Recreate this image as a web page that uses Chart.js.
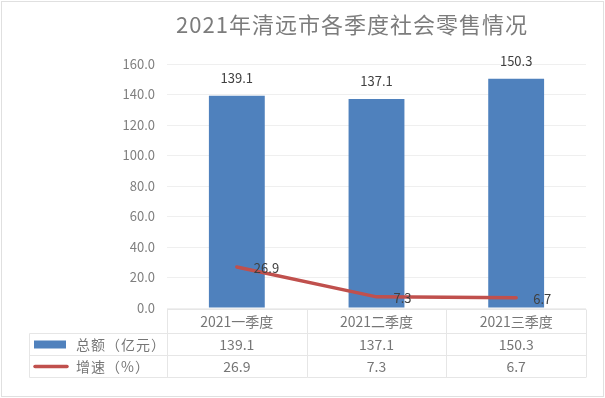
<!DOCTYPE html>
<html><head><meta charset="utf-8">
<script src="https://cdn.jsdelivr.net/npm/chart.js@4.4.1/dist/chart.umd.min.js"></script>
<style>html,body{margin:0;padding:0;background:#fff;}#wrap{width:605px;height:398px;position:relative;}</style>
</head><body><div id="wrap"><canvas id="c" width="605" height="398"></canvas></div>
<script>
const titleText = '2021年清远市各季度社会零售情况';
const categories = ['2021一季度', '2021二季度', '2021三季度'];
const totalValues = [139.1, 137.1, 150.3];
const growthValues = [26.9, 7.3, 6.7];
const seriesNames = ['总额（亿元）', '增速（%）'];
const yTicks = [0, 20, 40, 60, 80, 100, 120, 140, 160];

const FONT = '"Noto Sans CJK SC", "Microsoft YaHei", sans-serif';
const BLUE = '#4f81bd', RED = '#c0504d';
const TEXT_GRAY = '#767676';

const titlePlugin = {
  id: 'customTitle',
  afterDraw(chart) {
    const ctx = chart.ctx;
    ctx.save();
    ctx.font = '22px ' + FONT;
    ctx.fillStyle = '#7c7c7c';
    ctx.textBaseline = 'middle';
    ctx.textAlign = 'left';
    try { ctx.letterSpacing = '1px'; } catch (e) {}
    const w = ctx.measureText(titleText).width;
    ctx.fillText(titleText, 352 - w / 2, 25);
    ctx.restore();
  }
};

const labelPlugin = {
  id: 'labels',
  afterDatasetsDraw(chart) {
    const ctx = chart.ctx;
    ctx.save();
    ctx.font = '13px ' + FONT;
    ctx.fillStyle = '#404040';
    ctx.textBaseline = 'middle';
    const barMeta = chart.getDatasetMeta(0);
    barMeta.data.forEach((el, i) => {
      ctx.textAlign = 'center';
      ctx.fillText(totalValues[i].toFixed(1), el.x, el.y - 18);
    });
    const lineMeta = chart.getDatasetMeta(1);
    lineMeta.data.forEach((el, i) => {
      ctx.textAlign = 'left';
      ctx.fillText(growthValues[i].toFixed(1), el.x + 17, el.y + 1);
    });
    ctx.restore();
  }
};

const tablePlugin = {
  id: 'table',
  afterDraw(chart) {
    const ctx = chart.ctx;
    const xs = chart.scales.x;
    const area = chart.chartArea;
    const n = categories.length;
    const centers = categories.map((c, i) => xs.getPixelForValue(i));
    const half = (centers[1] - centers[0]) / 2;
    const bounds = [area.left].concat(centers.map(c => c + half));
    bounds[bounds.length - 1] = area.right;
    const legendLeft = 29.5;
    const rows = [309.5, 333.5, 355.5, 377.5];
    ctx.save();
    ctx.strokeStyle = '#e6e6e6';
    ctx.lineWidth = 1;
    ctx.beginPath();
    ctx.moveTo(bounds[0], rows[0]); ctx.lineTo(bounds[n], rows[0]);
    for (let r = 1; r < rows.length; r++) {
      ctx.moveTo(legendLeft, rows[r]); ctx.lineTo(bounds[n], rows[r]);
    }
    ctx.moveTo(legendLeft, rows[1]); ctx.lineTo(legendLeft, rows[3]);
    bounds.forEach(b => {
      const x = Math.round(b) + 0.5;
      ctx.moveTo(x, rows[0]); ctx.lineTo(x, rows[3]);
    });
    ctx.stroke();

    ctx.font = '14px ' + FONT;
    ctx.fillStyle = TEXT_GRAY;
    ctx.textAlign = 'center';
    ctx.textBaseline = 'middle';
    const rowMid = [344.5, 366.5];
    centers.forEach((c, i) => {
      ctx.fillText(totalValues[i].toFixed(1), c, rowMid[0]);
      ctx.fillText(growthValues[i].toFixed(1), c, rowMid[1]);
    });
    ctx.fillStyle = BLUE;
    ctx.fillRect(34, rowMid[0] - 4, 32, 8);
    ctx.strokeStyle = RED;
    ctx.lineWidth = 3.5;
    ctx.lineCap = 'round';
    ctx.beginPath();
    ctx.moveTo(35, rowMid[1]); ctx.lineTo(67, rowMid[1]);
    ctx.stroke();
    ctx.fillStyle = TEXT_GRAY;
    ctx.textAlign = 'left';
    ctx.font = '14px ' + FONT;
    try { ctx.letterSpacing = '1px'; } catch (e) {}
    ctx.fillText(seriesNames[0], 76, rowMid[0]);
    ctx.fillText(seriesNames[1], 76, rowMid[1]);
    try { ctx.letterSpacing = '0px'; } catch (e) {}

    ctx.strokeStyle = '#e0e0e0';
    ctx.lineWidth = 1;
    ctx.lineCap = 'butt';
    ctx.strokeRect(1.5, 1.5, 602, 395);
    ctx.restore();
  }
};

new Chart(document.getElementById('c'), {
  data: {
    labels: categories,
    datasets: [
      {
        type: 'bar',
        label: seriesNames[0],
        data: totalValues,
        backgroundColor: BLUE,
        borderWidth: 0,
        categoryPercentage: 1.0,
        barPercentage: 0.4,
        order: 1
      },
      {
        type: 'line',
        label: seriesNames[1],
        data: growthValues,
        borderColor: RED,
        borderWidth: 3.5,
        pointRadius: 0,
        tension: 0,
        fill: false,
        borderCapStyle: 'round',
        order: 0
      }
    ]
  },
  options: {
    responsive: false,
    animation: false,
    devicePixelRatio: 1,
    layout: { padding: { left: 0, right: 19, top: 64, bottom: 0 } },
    plugins: {
      legend: { display: false },
      tooltip: { enabled: false },
      title: { display: false }
    },
    scales: {
      x: {
        type: 'category',
        offset: true,
        grid: { display: false, drawTicks: false },
        border: { display: false },
        ticks: {
          color: TEXT_GRAY,
          font: { family: FONT, size: 14, lineHeight: 1.2 },
          padding: 5.5,
          maxRotation: 0,
          autoSkip: false
        },
        afterFit(scale) { scale.height = 90; }
      },
      y: {
        min: 0,
        max: 160,
        grid: { color: '#efefef', drawTicks: false, lineWidth: 1 },
        border: { display: false },
        ticks: {
          color: '#7f7f7f',
          font: { family: FONT, size: 13 },
          padding: 12,
          callback: v => Number(v).toFixed(1)
        },
        afterBuildTicks(scale) { scale.ticks = yTicks.map(v => ({ value: v })); },
        afterFit(scale) { scale.width = 167; }
      }
    }
  },
  plugins: [titlePlugin, labelPlugin, tablePlugin]
});
</script>
</body></html>
